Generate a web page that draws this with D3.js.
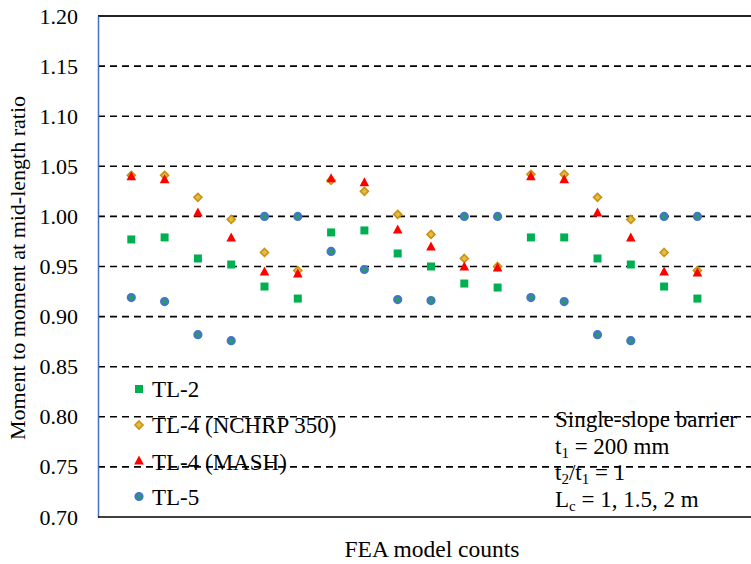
<!DOCTYPE html>
<html>
<head>
<meta charset="utf-8">
<script src="https://cdn.jsdelivr.net/npm/d3@7"></script>
<style>
  body { margin: 0; background: #fff; }
  svg { display: block; font-family: "Liberation Serif", "Times New Roman", serif; }
</style>
</head>
<body>
<svg id="chart"></svg>
<script>
// FEA model counts (categories)
const counts = [1, 2, 3, 4, 5, 6, 7, 8, 9, 10, 11, 12, 13, 14, 15, 16, 17, 18];

const tl2 = [0.977, 0.979, 0.958, 0.952, 0.930, 0.918, 0.984, 0.986, 0.963,
             0.950, 0.933, 0.929, 0.979, 0.979, 0.958, 0.952, 0.930, 0.918];
const tl4Nchrp = [1.041, 1.041, 1.019, 0.997, 0.964, 0.946, 1.036, 1.025, 1.002,
                  0.982, 0.958, 0.950, 1.042, 1.042, 1.019, 0.997, 0.964, 0.946];
const tl4Mash = [1.040, 1.037, 1.004, 0.979, 0.945, 0.943, 1.038, 1.034, 0.987,
                 0.970, 0.950, 0.949, 1.040, 1.037, 1.004, 0.979, 0.945, 0.944];
const tl5 = [0.919, 0.915, 0.882, 0.876, 1.000, 1.000, 0.965, 0.947, 0.917,
             0.916, 1.000, 1.000, 0.919, 0.915, 0.882, 0.876, 1.000, 1.000];

const yTicks = [0.70, 0.75, 0.80, 0.85, 0.90, 0.95, 1.00, 1.05, 1.10, 1.15, 1.20];
const seriesNames = ["TL-2", "TL-4 (NCHRP 350)", "TL-4 (MASH)", "TL-5"];
const noteLines = ["Single-slope barrier", "t|1| = 200 mm", "t|2|/t|1| = 1", "L|c| = 1, 1.5, 2 m"];

const width = 751;
const height = 564;
const margin = {top: 16, right: 0, bottom: 47, left: 98};

const svg = d3.select("#chart").attr("width", width).attr("height", height);

// category 0 sits on the y axis, the plot runs off the right edge
const x = d3.scaleLinear()
    .domain([0, 20])
    .range([margin.left, margin.left + 20 * 33.3]);

const y = d3.scaleLinear()
    .domain([0.70, 1.20])
    .range([height - margin.bottom, margin.top]);

// dashed gridlines
svg.append("g")
    .selectAll("line")
    .data(yTicks.filter(t => t > 0.70 && t < 1.20))
    .enter().append("line")
        .attr("x1", margin.left)
        .attr("x2", width)
        .attr("y1", d => y(d))
        .attr("y2", d => y(d))
        .attr("stroke", "#000")
        .attr("stroke-width", 1.6)
        .attr("stroke-dasharray", "7,5");

// top border
svg.append("line")
    .attr("x1", margin.left).attr("x2", width)
    .attr("y1", y(1.20)).attr("y2", y(1.20))
    .attr("stroke", "#222").attr("stroke-width", 2);

// y axis
let yAxis = (g) => g
    .attr("transform", `translate(${margin.left}, 0)`)
    .call(d3.axisLeft(y).tickValues(yTicks).tickFormat(d3.format(".2f")).tickSize(0).tickPadding(20))
    .call(g => g.select(".domain").attr("stroke", "#4472C4").attr("stroke-width", 1.5))
    .call(g => g.selectAll("text")
        .attr("fill", "#000")
        .style("font", "22px 'Liberation Serif', serif"));
svg.append("g").call(yAxis);

// x axis line (no ticks)
svg.append("line")
    .attr("x1", margin.left).attr("x2", width)
    .attr("y1", y(0.70)).attr("y2", y(0.70))
    .attr("stroke", "#000").attr("stroke-width", 1.5);

// markers
const marker = {
    square: g => g.append("rect").attr("x", -4).attr("y", -4).attr("width", 8).attr("height", 8)
        .attr("fill", "#00B050"),
    diamond: g => g.append("path").attr("d", "M0,-4L4,0L0,4L-4,0Z")
        .attr("fill", "#E6BA4A").attr("stroke", "#C8940F").attr("stroke-width", 1.6),
    triangle: g => g.append("path").attr("d", "M0,-5L4.8,4L-4.8,4Z")
        .attr("fill", "#FF0000"),
    circle: g => g.append("circle").attr("r", 3.4)
        .attr("fill", "#1FA35A").attr("stroke", "#4575C6").attr("stroke-width", 2.4)
};

const series = [
    {name: seriesNames[0], values: tl2, shape: "square"},
    {name: seriesNames[1], values: tl4Nchrp, shape: "diamond"},
    {name: seriesNames[2], values: tl4Mash, shape: "triangle"},
    {name: seriesNames[3], values: tl5, shape: "circle"}
];

series.forEach(s => {
    svg.append("g")
        .selectAll("g")
        .data(counts)
        .enter().append("g")
            .attr("transform", (d, i) => `translate(${x(d)},${y(s.values[i])})`)
            .each(function() { marker[s.shape](d3.select(this)); });
});

// legend
const legend = svg.append("g").attr("transform", "translate(139, 389)");
series.forEach((s, i) => {
    const row = legend.append("g").attr("transform", `translate(0, ${[0, 36, 72.5, 107.5][i]})`);
    marker[s.shape](row.append("g").attr("transform", i === 2 ? "translate(0,-1)" : null));
    row.append("text")
        .attr("x", 13)
        .attr("dy", "0.35em")
        .style("font-size", "23px")
        .text(s.name);
});

// note box text with subscripts
const note = svg.append("g").attr("transform", "translate(555, 0)");
noteLines.forEach((line, i) => {
    const t = note.append("text")
        .attr("y", 427 + i * 26.5)
        .style("font-size", "23px");
    line.split("|").forEach((part, j) => {
        if (!part) return;
        t.append("tspan")
            .attr("baseline-shift", j % 2 ? "-28%" : null)
            .style("font-size", j % 2 ? "15px" : null)
            .text(part);
    });
});

// axis titles
svg.append("text")
    .attr("x", 432)
    .attr("y", 557)
    .attr("text-anchor", "middle")
    .style("font-size", "23.5px")
    .text("FEA  model counts");

svg.append("text")
    .attr("transform", "translate(25, 268) rotate(-90)")
    .attr("text-anchor", "middle")
    .style("font-size", "22px")
    .text("Moment to moment at mid-length ratio");
</script>
</body>
</html>
